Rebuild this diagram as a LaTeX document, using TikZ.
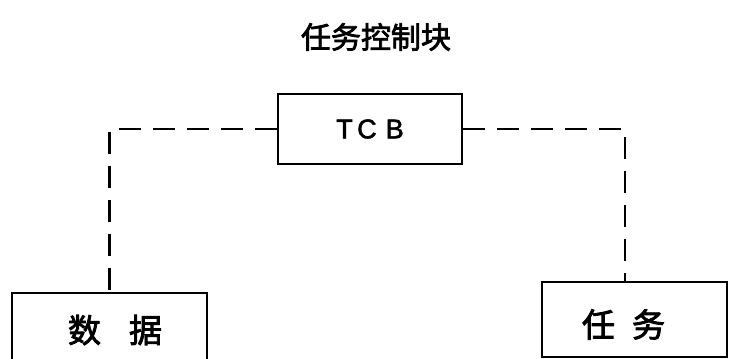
\documentclass[tikz,border=0pt]{standalone}
\usepackage{fontspec}
\newfontfamily\cjk[FakeBold=2.5]{Noto Sans CJK SC}
\newfontfamily\lsans[FakeBold=2]{Liberation Sans}
\begin{document}
\begin{tikzpicture}[x=1pt,y=-1pt,
  box/.style={draw,line width=2.3pt,inner sep=0pt},
  link/.style={line width=2.3pt,dash pattern=on 22pt off 12pt}]
\useasboundingbox (0,0) rectangle (729,359);
\clip (0,0) rectangle (729,359);
\node[font=\cjk\fontsize{30}{34}\selectfont] (title) at (376,37) {任务控制块};
\node[box,minimum width=184pt,minimum height=70pt,font=\lsans\fontsize{27}{30}\selectfont] (tcb) at (370,129) {T\,C\,\,B};
\node[box,minimum width=195pt,minimum height=74pt,font=\cjk\fontsize{33}{36}\selectfont] (data) at (109.5,330) {\hspace*{11pt}数\hspace{28pt}据};
\node[box,minimum width=185pt,minimum height=75pt,font=\cjk\fontsize{33}{36}\selectfont] (task) at (634.5,319.5) {\raisebox{-5pt}[\height][\depth]{任\hspace{17pt}务}\hspace*{22pt}};
\draw[link] (tcb.west) -| (data.north);
\draw[link] (tcb.east) -| ([xshift=-9.5pt]task.north);
\end{tikzpicture}
\end{document}
